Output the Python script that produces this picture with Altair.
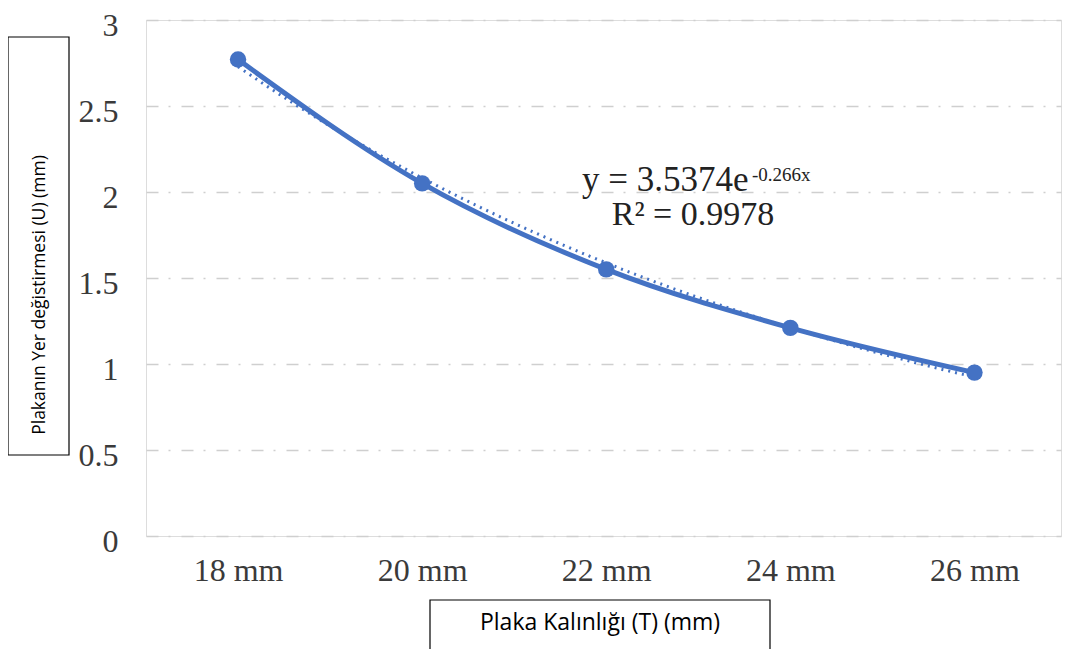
import json
import altair as alt
import pandas as pd

x_labels = ["18 mm", "20 mm", "22 mm", "24 mm", "26 mm"]
x_index = [1, 2, 3, 4, 5]
u_values = [2.77, 2.05, 1.55, 1.21, 0.95]
y_ticks = [0, 0.5, 1, 1.5, 2, 2.5, 3]

eq_main = "y = 3.5374e"
eq_sup = "-0.266x"
eq_r2 = "R² = 0.9978"
y_title = "Plakanın Yer değistirmesi (U) (mm)"
x_title = "Plaka Kalınlığı (T) (mm)"

BLUE = "#4472C4"
SERIF = "Liberation Serif"
SANS = "Open Sans"

df = pd.DataFrame({"x": x_index, "u": u_values, "label": x_labels})

label_expr = json.dumps(x_labels) + "[datum.value - 1]"

x_enc = alt.X(
    "x:Q",
    scale=alt.Scale(domain=[0.5, 5.47], nice=False, zero=False),
    axis=alt.Axis(
        values=x_index, labelExpr=label_expr, title=None, grid=False,
        ticks=False, domain=False, labelFont=SERIF, labelFontSize=32,
        labelColor="#3a3a3a", labelPadding=19,
    ),
)
y_enc = alt.Y(
    "u:Q",
    scale=alt.Scale(domain=[0, 3], nice=False),
    axis=alt.Axis(
        values=y_ticks, format="~g", title=None, ticks=False, domain=False,
        labelFont=SERIF, labelFontSize=32, labelColor="#3a3a3a",
        labelPadding=28, labelOffset=5, gridColor="#cfcfcf", gridWidth=1.5,
        gridDash=[12, 10, 2, 11],
    ),
)

base = alt.Chart(df)

trend = base.transform_regression("x", "u", method="exp").mark_line(
    color=BLUE, strokeWidth=3, strokeDash=[2, 5]
).encode(x=x_enc, y=y_enc)

line = base.mark_line(color=BLUE, strokeWidth=5, interpolate="monotone").encode(
    x=x_enc, y=y_enc
)
pts = base.mark_circle(color=BLUE, size=270, opacity=1).encode(x=x_enc, y=y_enc)

ann = pd.DataFrame({"t": [1]})
abase = alt.Chart(ann)

t_main = abase.mark_text(
    text=eq_main, font=SERIF, fontSize=35, align="left", baseline="alphabetic", color="#222"
).encode(x=alt.value(436), y=alt.value(171))
t_sup = abase.mark_text(
    text=eq_sup, font=SERIF, fontSize=19, align="left", baseline="alphabetic", color="#222"
).encode(x=alt.value(606), y=alt.value(161))
t_r2 = abase.mark_text(
    text=eq_r2, font=SERIF, fontSize=34, align="center", baseline="alphabetic", color="#222"
).encode(x=alt.value(547), y=alt.value(205))

ybox = abase.mark_rect(fill=None, stroke="black", strokeWidth=1.2).encode(
    x=alt.value(-138), x2=alt.value(-77), y=alt.value(17), y2=alt.value(435)
)
ytxt = abase.mark_text(
    text=y_title, font=SANS, fontSize=17.5, angle=270, align="center",
    baseline="middle", color="black"
).encode(x=alt.value(-106), y=alt.value(275))

xbox = abase.mark_rect(fill=None, stroke="black", strokeWidth=1.2).encode(
    x=alt.value(284), x2=alt.value(624), y=alt.value(580), y2=alt.value(700)
)
xtxt = abase.mark_text(
    text=x_title, font=SANS, fontSize=23, align="center", baseline="middle", color="black"
).encode(x=alt.value(454), y=alt.value(603))

chart = alt.layer(
    trend, line, pts, t_main, t_sup, t_r2, ybox, ytxt, xbox, xtxt
).properties(
    width=915, height=516,
    autosize=alt.AutoSizeParams(type="none"),
    padding={"left": 138, "top": 12, "right": 1, "bottom": 113},
).configure_view(stroke="#c8c8c8", strokeWidth=2).configure(background="white")

chart.save("out.html", embed_options={"renderer": "svg", "actions": False})
